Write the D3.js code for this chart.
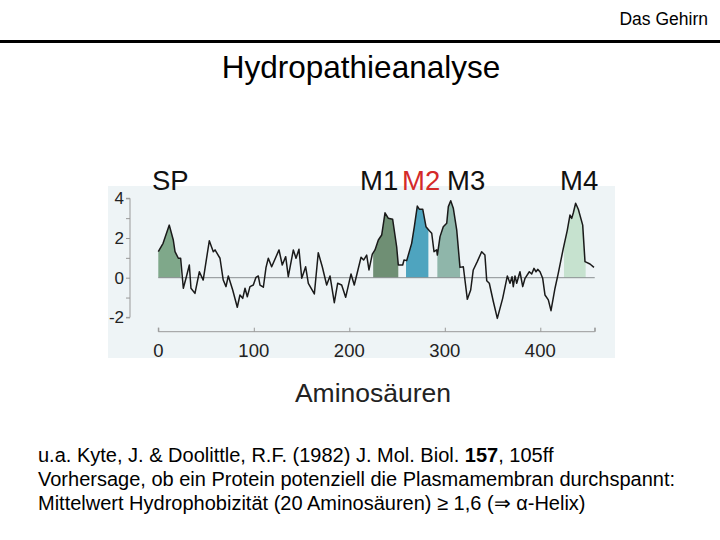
<!DOCTYPE html>
<html>
<head>
<meta charset="utf-8">
<script src="https://cdn.jsdelivr.net/npm/d3@7"></script>
<style>
  body { margin: 0; background: #fff; }
  svg text { font-family: "Liberation Sans", Arial, sans-serif; }
</style>
</head>
<body>
<svg id="chart" width="720" height="540"></svg>
<script>
// residue position (amino acid no.) and hydropathy value
const residues = [0, 5, 11.5, 15.7, 17.5, 21, 23.4, 26.2, 29, 32.5, 34.2, 38.4, 43, 47, 53.4, 57.6, 59.4, 64.6, 68, 70.9,
  73.3, 77.9, 82.7, 85.5, 88.4, 90.8, 93.2, 96, 99.5, 102.3, 104.7, 106.5, 110, 112.8, 115.2, 118.7, 126.4, 129.8, 133.4, 136.1,
  141.4, 144.2, 147.3, 150.2, 154.3, 157.1, 163.4, 167.5, 171.7, 176.3, 179.8, 184.3, 187.8, 192, 196.2, 201.8, 205.2, 212.3, 215, 218.2,
  220.6, 224.1, 226.9, 230.4, 233.9, 237.4, 240.9, 245.4, 249.6, 251.3, 255.9, 257.3, 260.1, 265.3, 268.1, 271.2, 273.3, 276.9, 280.3, 283.8,
  286.3, 288.7, 291.5, 292.2, 295, 298.4, 302, 303.7, 306.2, 308.9, 312.5, 315.9, 319.4, 323.6, 327.1, 329.8, 334, 338.6, 342, 343.9,
  346.6, 350.8, 355, 360.6, 365.5, 368.3, 370.4, 371.7, 373.5, 375.3, 378.7, 381.6, 384, 388.5, 391, 393.4, 395.5, 397.3, 399.7, 402.5,
  404.9, 408.4, 411.2, 415.4, 418.8, 424.1, 428.3, 431.1, 432.9, 434.6, 437, 439.8, 444.4, 446.8, 452, 456.2];
const hydropathy = [1.31, 1.73, 2.65, 1.9, 1.31, 0.98, 0.98, -0.53, -0.03, 0.64, -0.53, -0.79, 0.3, -0.12, 1.86, 1.31, 1.4, 0.98, -0.12, -0.45,
  0.09, -0.62, -1.49, -0.87, -1.04, -0.53, -0.96, -0.45, -0.37, 0.02, 0.09, -0.37, -0.48, 0.52, 0.98, 0.55, 1.4, 0.64, 1.06, 0.05,
  1.4, 0.98, 1.43, -0.03, 0.55, -0.28, -0.82, 1.26, 0.55, -0.37, 0.09, -1.26, -0.28, -0.37, -0.99, 0.19, -0.37, 1.03, 0.89, 1.14,
  0.39, 1.19, 1.4, 1.9, 2.15, 3.27, 2.99, 2.94, 1.56, 0.64, 0.64, 0.89, 0.86, 1.73, 2.57, 3.61, 3.45, 3.45, 2.57, 2.37,
  2.24, 1.31, 1.4, 1.14, 2.07, 2.57, 2.74, 3.58, 3.88, 3.5, 2.4, 0.52, 0.55, -1.09, -0.62, 0.39, 0.81, 1.31, 1.14, -0.15,
  -0.28, -1.2, -2.05, -1.04, 0.09, -0.28, 0.05, -0.45, 0.09, -0.28, 0.3, -0.45, -0.03, 0.3, 0.19, 0.47, 0.3, 0.42, 0.3, -0.03,
  -0.87, -1.12, -1.66, -0.53, 0.22, 1.48, 2.4, 3.16, 2.99, 3.27, 3.75, 3.45, 2.65, 0.81, 0.69, 0.52];

// hydrophobic segments (signal peptide + transmembrane M1-M4)
const segNames = ["SP", "M1", "M2", "M3", "M4"];
const segStart = [0, 225, 259.4, 292.2, 424.8];
const segEnd = [23.4, 251.3, 282.8, 316, 447.5];
const segColors = ["#7fa88a", "#6f8f74", "#4ea4bf", "#8fb6aa", "#c6e2cf"];
const segLabelColors = ["#111", "#111", "#d42a2a", "#111", "#111"];

const xTicks = [0, 100, 200, 300, 400];
const yTicks = [-2, 0, 2, 4];

const data = residues.map((r, i) => ({ res: r, val: hydropathy[i] }));

const svg = d3.select("#chart");

// header
svg.append("text").attr("x", 708).attr("y", 25).attr("text-anchor", "end")
  .attr("font-size", 17.5).text("Das Gehirn");
svg.append("rect").attr("x", 0).attr("y", 40).attr("width", 720).attr("height", 3).attr("fill", "#000");
svg.append("text").attr("x", 361).attr("y", 78).attr("text-anchor", "middle")
  .attr("font-size", 31.5).text("Hydropathieanalyse");

// figure background panel
svg.append("rect").attr("x", 108).attr("y", 186).attr("width", 507).attr("height", 172).attr("fill", "#eef4f6");

const x = d3.scaleLinear().domain([0, 100]).range([158.3, 253.8]);
const y = d3.scaleLinear().domain([0, 4]).range([277.7, 198.3]);

// shaded segments, interpolated to the segment edges
function valAt(r) {
  const i = d3.bisector(d => d.res).right(data, r);
  if (i <= 0) return data[0].val;
  if (i >= data.length) return data[data.length - 1].val;
  const a = data[i - 1], b = data[i];
  return a.val + (b.val - a.val) * (r - a.res) / (b.res - a.res);
}
const area = d3.area().x(d => x(d.res)).y0(y(0)).y1(d => y(d.val));
segNames.forEach((n, k) => {
  const pts = [{ res: segStart[k], val: valAt(segStart[k]) }]
    .concat(data.filter(d => d.res > segStart[k] && d.res < segEnd[k]))
    .concat([{ res: segEnd[k], val: valAt(segEnd[k]) }]);
  svg.append("path").attr("d", area(pts)).attr("fill", segColors[k]);
});

// zero line
svg.append("line").attr("x1", x(0)).attr("x2", x(457)).attr("y1", y(0)).attr("y2", y(0))
  .attr("stroke", "#8a8f92").attr("stroke-width", 1);

// hydropathy trace
svg.append("path").datum(data)
  .attr("d", d3.line().x(d => x(d.res)).y(d => y(d.val)))
  .attr("fill", "none").attr("stroke", "#1a1a1a").attr("stroke-width", 1.5).attr("stroke-linejoin", "round");

// y axis
const yAxis = svg.append("g").attr("transform", "translate(130,0)")
  .call(d3.axisLeft(y).tickValues(d3.range(-2, 5, 1)).tickSize(4).tickFormat(""));
yAxis.selectAll("path, line").attr("stroke", "#999");
yAxis.select(".domain").attr("d", `M-4,${y(4)}H0V${y(-2)}H-4`);
svg.selectAll(".ylab").data(yTicks).enter().append("text")
  .attr("x", 124).attr("y", d => y(d) + 6).attr("text-anchor", "end")
  .attr("font-size", 17).attr("fill", "#222").text(d => d);

// x axis
const xAxis = svg.append("g").attr("transform", "translate(0,331.7)")
  .call(d3.axisTop(x).tickValues(xTicks.concat([457])).tickSize(4).tickFormat(""));
xAxis.selectAll("path, line").attr("stroke", "#999");
xAxis.select(".domain").attr("d", `M${x(0)},-4V0H${x(457)}V-4`);
svg.selectAll(".xlab").data(xTicks).enter().append("text")
  .attr("x", d => x(d)).attr("y", 357).attr("text-anchor", "middle")
  .attr("font-size", 18.5).attr("fill", "#222").text(d => d);

svg.append("text").attr("x", 373).attr("y", 402).attr("text-anchor", "middle")
  .attr("font-size", 26.5).attr("fill", "#222").text("Aminosäuren");

// segment labels
const labelX = [152, 360, 402, 447, 560];
segNames.forEach((n, k) => {
  svg.append("text").attr("x", labelX[k]).attr("y", 190).attr("font-size", 27.5)
    .attr("fill", segLabelColors[k]).text(n);
});

// citation / notes
const notes = svg.append("g").attr("font-size", 20).attr("fill", "#000");
const t1 = notes.append("text").attr("x", 38).attr("y", 462);
t1.append("tspan").text("u.a. Kyte, J. & Doolittle, R.F. (1982) J. Mol. Biol. ");
t1.append("tspan").attr("font-weight", "bold").text("157");
t1.append("tspan").text(", 105ff");
notes.append("text").attr("x", 38).attr("y", 486)
  .text("Vorhersage, ob ein Protein potenziell die Plasmamembran durchspannt:");
notes.append("text").attr("x", 38).attr("y", 510)
  .text("Mittelwert Hydrophobizität (20 Aminosäuren) ≥ 1,6 (⇒ α-Helix)");
</script>
</body>
</html>
